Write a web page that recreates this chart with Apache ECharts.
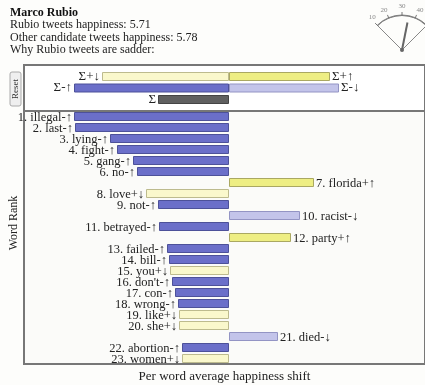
<!DOCTYPE html>
<html>
<head>
<meta charset="utf-8">
<script src="https://cdn.jsdelivr.net/npm/echarts@6/dist/echarts.min.js"></script>
<style>
  html, body { margin: 0; padding: 0; background: #fdfdfb; }
  #chart { width: 425px; height: 385px; }
</style>
</head>
<body>
<div id="chart"></div>
<script>
// word shift data (per word average happiness shift)
const words = ['illegal', 'last', 'lying', 'fight', 'gang', 'no', 'florida', 'love', 'not', 'racist',
  'betrayed', 'party', 'failed', 'bill', 'you', "don't", 'con', 'wrong', 'like', 'she', 'died', 'abortion', 'women']
const shifts = [-15.5, -15.4, -11.9, -11.2, -9.6, -9.2, 8.5, -8.3, -7.1, 7.1,
  -7.0, 6.2, -6.2, -6.0, -5.9, -5.7, -5.4, -5.1, -5.0, -5.0, 4.9, -4.7, -4.7]
const kinds = ['-↑', '-↑', '-↑', '-↑', '-↑', '-↑', '+↑', '+↓', '-↑', '-↓',
  '-↑', '+↑', '-↑', '-↑', '+↓', '-↑', '-↑', '-↑', '+↓', '+↓', '-↓', '-↑', '+↓']

// summary rows: Σ+ / Σ- / Σ
const sumRows = ['', 'plus', 'minus', 'total', '']
const sumPlusDown = ['-', -12.7, '-', '-', '-']
const sumPlusUp = ['-', 10.1, '-', '-', '-']
const sumMinusUp = ['-', '-', -15.5, '-', '-']
const sumMinusDown = ['-', '-', 11.0, '-', '-']
const sumTotal = ['-', '-', '-', -7.1, '-']

// gauge
const gaugeMin = 10
const gaugeMax = 50
const gaugeValue = 35

const colorMap = {
  '-↑': { color: '#6b6fc9', borderColor: '#4d5199' },
  '-↓': { color: '#c3c4ea', borderColor: '#9394c4' },
  '+↑': { color: '#eeee84', borderColor: '#aaa862' },
  '+↓': { color: '#faf8cc', borderColor: '#bdbb8e' },
}
const font = 'Liberation Serif'
const xMin = -20.5
const xMax = 19.6

const chart = echarts.init(document.getElementById('chart'))

const mainData = shifts.map((v, i) => ({
  value: v,
  itemStyle: { ...colorMap[kinds[i]], borderWidth: 1 },
  label: {
    position: v < 0 ? 'left' : 'right',
    formatter: `${i + 1}. ${words[i]}${kinds[i]}`,
  },
}))

const sumLabel = (pos, text) => ({
  show: true,
  position: pos,
  distance: 2,
  formatter: text,
  fontFamily: font,
  fontSize: 13,
  lineHeight: 13,
  verticalAlign: 'middle',
  color: '#222',
})

const sumBar = (data, style, label) => ({
  type: 'bar',
  xAxisIndex: 0,
  yAxisIndex: 0,
  barWidth: 9,
  barGap: '-100%',
  data: data,
  itemStyle: { ...style, borderWidth: 1 },
  label: label,
})

const option = {
  backgroundColor: '#fdfdfb',
  animation: false,
  title: {
    left: 10,
    top: 6,
    padding: 0,
    text: 'Marco Rubio',
    textStyle: { fontFamily: font, fontSize: 12, fontWeight: 'bold', color: '#111', lineHeight: 13 },
    subtext: 'Rubio tweets happiness: 5.71\nOther candidate tweets happiness: 5.78\nWhy Rubio tweets are sadder:',
    subtextStyle: { fontFamily: font, fontSize: 12, color: '#222', lineHeight: 12.5 },
    itemGap: 0,
  },
  grid: [
    { left: 24, right: 0, top: 65, height: 46, outerBoundsMode: 'none', show: true, borderColor: '#777', borderWidth: 2, backgroundColor: '#fff' },
    { left: 24, right: 0, top: 111, bottom: 21, outerBoundsMode: 'none', show: true, borderColor: '#777', borderWidth: 2, backgroundColor: '#fbfbf9' },
  ],
  xAxis: [
    { type: 'value', gridIndex: 0, min: xMin, max: xMax, show: false },
    {
      type: 'value', gridIndex: 1, min: xMin, max: xMax,
      name: 'Per word average happiness shift',
      nameLocation: 'middle',
      nameGap: 6,
      nameTextStyle: { fontFamily: font, fontSize: 13, color: '#222' },
      axisLine: { show: false },
      axisTick: { show: false },
      axisLabel: { show: false },
      splitLine: { show: false },
    },
  ],
  yAxis: [
    { type: 'category', gridIndex: 0, inverse: true, boundaryGap: false, data: sumRows, show: false },
    { type: 'category', gridIndex: 1, inverse: true, data: words, show: false },
  ],
  series: [
    sumBar(sumPlusDown, colorMap['+↓'], sumLabel('left', 'Σ+↓')),
    sumBar(sumPlusUp, colorMap['+↑'], sumLabel('right', 'Σ+↑')),
    sumBar(sumMinusUp, colorMap['-↑'], sumLabel('left', 'Σ-↑')),
    sumBar(sumMinusDown, colorMap['-↓'], sumLabel('right', 'Σ-↓')),
    sumBar(sumTotal, { color: '#606060', borderColor: '#444' }, sumLabel('left', 'Σ')),
    {
      type: 'bar',
      xAxisIndex: 1,
      yAxisIndex: 1,
      barWidth: 9,
      data: mainData,
      label: { show: true, distance: 2, offset: [0, 1], fontFamily: font, fontSize: 12.5, lineHeight: 12, verticalAlign: 'middle', color: '#222' },
    },
    {
      type: 'gauge',
      center: [402, 50],
      radius: 35,
      startAngle: 135,
      endAngle: 45,
      min: gaugeMin,
      max: gaugeMax,
      splitNumber: 4,
      axisLine: { lineStyle: { width: 1, color: [[1, '#777']] } },
      splitLine: { length: 4, distance: -4, lineStyle: { color: '#777', width: 1 } },
      axisTick: { show: false },
      axisLabel: { distance: -12, fontSize: 7, color: '#888', fontFamily: font },
      pointer: { icon: 'rect', length: '80%', width: 2, itemStyle: { color: '#666' } },
      anchor: { show: true, size: 4, itemStyle: { color: '#666' } },
      detail: { show: false },
      title: { show: false },
      data: [{ value: gaugeValue }],
    },
  ],
  graphic: [
    {
      type: 'sector',
      shape: { cx: 402, cy: 50, r: 35, r0: 0, startAngle: -Math.PI * 3 / 4, endAngle: -Math.PI / 4 },
      style: { fill: 'none', stroke: '#888', lineWidth: 1 },
      silent: true,
    },
    {
      type: 'rect',
      shape: { x: 10, y: 72, width: 11, height: 34, r: 2 },
      style: { fill: '#efefef', stroke: '#aaa', lineWidth: 1 },
    },
    {
      type: 'text',
      x: 15.5,
      y: 89,
      rotation: Math.PI / 2,
      style: { text: 'Reset', font: '9px "Liberation Serif"', fill: '#333', align: 'center', verticalAlign: 'middle' },
    },
    {
      type: 'text',
      x: 14,
      y: 223,
      rotation: Math.PI / 2,
      style: { text: 'Word Rank', font: '12px "Liberation Serif"', fill: '#222', align: 'center', verticalAlign: 'middle' },
    },
  ],
}

chart.setOption(option)
</script>
</body>
</html>
